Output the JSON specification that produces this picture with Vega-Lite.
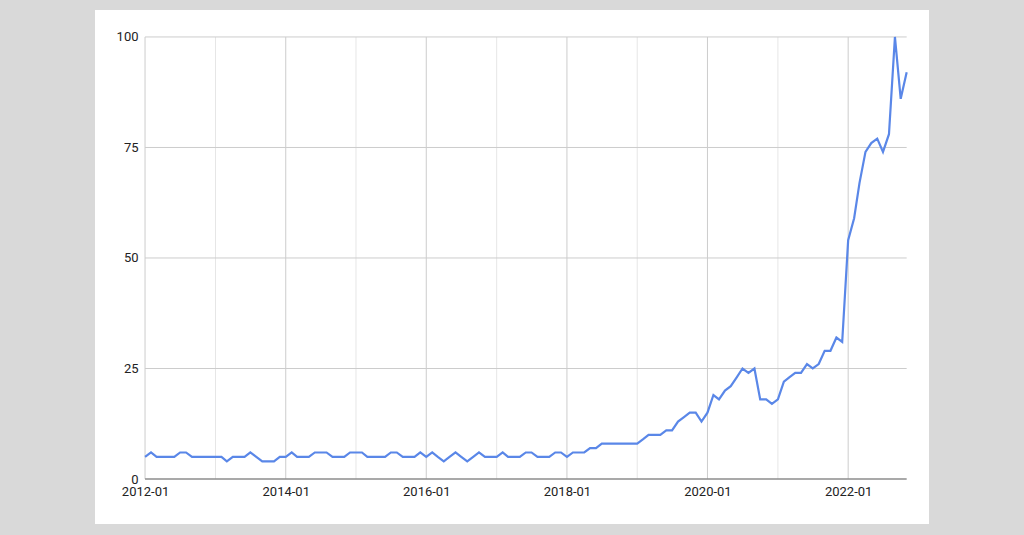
{
  "$schema": "https://vega.github.io/schema/vega-lite/v6.json",
  "width": 834,
  "height": 514,
  "autosize": {"type": "none"},
  "padding": {"left": 95, "top": 10, "right": 95, "bottom": 11},
  "background": "#d9d9d9",
  "config": {"view": {"fill": "#ffffff", "stroke": null}, "font": "Roboto"},
  "datasets": {
    "trend": [
      {"date": "2012-01-01", "v": 5}, {"date": "2012-02-01", "v": 6}, {"date": "2012-03-01", "v": 5}, {"date": "2012-04-01", "v": 5},
      {"date": "2012-05-01", "v": 5}, {"date": "2012-06-01", "v": 5}, {"date": "2012-07-01", "v": 6}, {"date": "2012-08-01", "v": 6},
      {"date": "2012-09-01", "v": 5}, {"date": "2012-10-01", "v": 5}, {"date": "2012-11-01", "v": 5}, {"date": "2012-12-01", "v": 5},
      {"date": "2013-01-01", "v": 5}, {"date": "2013-02-01", "v": 5}, {"date": "2013-03-01", "v": 4}, {"date": "2013-04-01", "v": 5},
      {"date": "2013-05-01", "v": 5}, {"date": "2013-06-01", "v": 5}, {"date": "2013-07-01", "v": 6}, {"date": "2013-08-01", "v": 5},
      {"date": "2013-09-01", "v": 4}, {"date": "2013-10-01", "v": 4}, {"date": "2013-11-01", "v": 4}, {"date": "2013-12-01", "v": 5},
      {"date": "2014-01-01", "v": 5}, {"date": "2014-02-01", "v": 6}, {"date": "2014-03-01", "v": 5}, {"date": "2014-04-01", "v": 5},
      {"date": "2014-05-01", "v": 5}, {"date": "2014-06-01", "v": 6}, {"date": "2014-07-01", "v": 6}, {"date": "2014-08-01", "v": 6},
      {"date": "2014-09-01", "v": 5}, {"date": "2014-10-01", "v": 5}, {"date": "2014-11-01", "v": 5}, {"date": "2014-12-01", "v": 6},
      {"date": "2015-01-01", "v": 6}, {"date": "2015-02-01", "v": 6}, {"date": "2015-03-01", "v": 5}, {"date": "2015-04-01", "v": 5},
      {"date": "2015-05-01", "v": 5}, {"date": "2015-06-01", "v": 5}, {"date": "2015-07-01", "v": 6}, {"date": "2015-08-01", "v": 6},
      {"date": "2015-09-01", "v": 5}, {"date": "2015-10-01", "v": 5}, {"date": "2015-11-01", "v": 5}, {"date": "2015-12-01", "v": 6},
      {"date": "2016-01-01", "v": 5}, {"date": "2016-02-01", "v": 6}, {"date": "2016-03-01", "v": 5}, {"date": "2016-04-01", "v": 4},
      {"date": "2016-05-01", "v": 5}, {"date": "2016-06-01", "v": 6}, {"date": "2016-07-01", "v": 5}, {"date": "2016-08-01", "v": 4},
      {"date": "2016-09-01", "v": 5}, {"date": "2016-10-01", "v": 6}, {"date": "2016-11-01", "v": 5}, {"date": "2016-12-01", "v": 5},
      {"date": "2017-01-01", "v": 5}, {"date": "2017-02-01", "v": 6}, {"date": "2017-03-01", "v": 5}, {"date": "2017-04-01", "v": 5},
      {"date": "2017-05-01", "v": 5}, {"date": "2017-06-01", "v": 6}, {"date": "2017-07-01", "v": 6}, {"date": "2017-08-01", "v": 5},
      {"date": "2017-09-01", "v": 5}, {"date": "2017-10-01", "v": 5}, {"date": "2017-11-01", "v": 6}, {"date": "2017-12-01", "v": 6},
      {"date": "2018-01-01", "v": 5}, {"date": "2018-02-01", "v": 6}, {"date": "2018-03-01", "v": 6}, {"date": "2018-04-01", "v": 6},
      {"date": "2018-05-01", "v": 7}, {"date": "2018-06-01", "v": 7}, {"date": "2018-07-01", "v": 8}, {"date": "2018-08-01", "v": 8},
      {"date": "2018-09-01", "v": 8}, {"date": "2018-10-01", "v": 8}, {"date": "2018-11-01", "v": 8}, {"date": "2018-12-01", "v": 8},
      {"date": "2019-01-01", "v": 8}, {"date": "2019-02-01", "v": 9}, {"date": "2019-03-01", "v": 10}, {"date": "2019-04-01", "v": 10},
      {"date": "2019-05-01", "v": 10}, {"date": "2019-06-01", "v": 11}, {"date": "2019-07-01", "v": 11}, {"date": "2019-08-01", "v": 13},
      {"date": "2019-09-01", "v": 14}, {"date": "2019-10-01", "v": 15}, {"date": "2019-11-01", "v": 15}, {"date": "2019-12-01", "v": 13},
      {"date": "2020-01-01", "v": 15}, {"date": "2020-02-01", "v": 19}, {"date": "2020-03-01", "v": 18}, {"date": "2020-04-01", "v": 20},
      {"date": "2020-05-01", "v": 21}, {"date": "2020-06-01", "v": 23}, {"date": "2020-07-01", "v": 25}, {"date": "2020-08-01", "v": 24},
      {"date": "2020-09-01", "v": 25}, {"date": "2020-10-01", "v": 18}, {"date": "2020-11-01", "v": 18}, {"date": "2020-12-01", "v": 17},
      {"date": "2021-01-01", "v": 18}, {"date": "2021-02-01", "v": 22}, {"date": "2021-03-01", "v": 23}, {"date": "2021-04-01", "v": 24},
      {"date": "2021-05-01", "v": 24}, {"date": "2021-06-01", "v": 26}, {"date": "2021-07-01", "v": 25}, {"date": "2021-08-01", "v": 26},
      {"date": "2021-09-01", "v": 29}, {"date": "2021-10-01", "v": 29}, {"date": "2021-11-01", "v": 32}, {"date": "2021-12-01", "v": 31},
      {"date": "2022-01-01", "v": 54}, {"date": "2022-02-01", "v": 59}, {"date": "2022-03-01", "v": 67}, {"date": "2022-04-01", "v": 74},
      {"date": "2022-05-01", "v": 76}, {"date": "2022-06-01", "v": 77}, {"date": "2022-07-01", "v": 74}, {"date": "2022-08-01", "v": 78},
      {"date": "2022-09-01", "v": 100}, {"date": "2022-10-01", "v": 86}, {"date": "2022-11-01", "v": 92}
    ],
    "majorYears": [
      {"g": "2012-01-01"}, {"g": "2014-01-01"}, {"g": "2016-01-01"}, {"g": "2018-01-01"}, {"g": "2020-01-01"}, {"g": "2022-01-01"}
    ],
    "minorYears": [
      {"g": "2013-01-01"}, {"g": "2015-01-01"}, {"g": "2017-01-01"}, {"g": "2019-01-01"}, {"g": "2021-01-01"}
    ],
    "hLines": [{"h": 25}, {"h": 50}, {"h": 75}, {"h": 100}]
  },
  "layer": [
    {
      "data": {"name": "minorYears"},
      "mark": {"type": "rule", "color": "#e6e6e6", "strokeWidth": 1},
      "encoding": {
        "x": {"field": "g", "type": "temporal", "title": null,
              "scale": {"type": "utc", "domain": [{"year": 2011, "month": 4, "date": 16, "utc": true}, {"year": 2023, "month": 2, "date": 25, "utc": true}]},
              "axis": {"orient": "bottom", "offset": -45, "domain": false, "ticks": false, "grid": false,
                       "format": "%Y-%m", "labelFontSize": 13, "labelColor": "#222222", "labelPadding": 6,
                       "values": [{"year": 2012, "month": 1, "date": 1, "utc": true}, {"year": 2014, "month": 1, "date": 1, "utc": true},
                                  {"year": 2016, "month": 1, "date": 1, "utc": true}, {"year": 2018, "month": 1, "date": 1, "utc": true},
                                  {"year": 2020, "month": 1, "date": 1, "utc": true}, {"year": 2022, "month": 1, "date": 1, "utc": true}]}},
        "y": {"datum": 0, "type": "quantitative", "title": null,
              "scale": {"domain": [-10.18, 106.1], "nice": false, "zero": false},
              "axis": {"orient": "left", "offset": -50, "domain": false, "ticks": false, "grid": false,
                       "values": [0, 25, 50, 75, 100], "labelFontSize": 13, "labelColor": "#222222", "labelPadding": 7}},
        "y2": {"datum": 100}
      }
    },
    {
      "data": {"name": "majorYears"},
      "mark": {"type": "rule", "color": "#cccccc", "strokeWidth": 1},
      "encoding": {
        "x": {"field": "g", "type": "temporal", "title": null,
              "scale": {"type": "utc", "domain": [{"year": 2011, "month": 4, "date": 16, "utc": true}, {"year": 2023, "month": 2, "date": 25, "utc": true}]},
              "axis": {"orient": "bottom", "offset": -45, "domain": false, "ticks": false, "grid": false,
                       "format": "%Y-%m", "labelFontSize": 13, "labelColor": "#222222", "labelPadding": 6,
                       "values": [{"year": 2012, "month": 1, "date": 1, "utc": true}, {"year": 2014, "month": 1, "date": 1, "utc": true},
                                  {"year": 2016, "month": 1, "date": 1, "utc": true}, {"year": 2018, "month": 1, "date": 1, "utc": true},
                                  {"year": 2020, "month": 1, "date": 1, "utc": true}, {"year": 2022, "month": 1, "date": 1, "utc": true}]}},
        "y": {"datum": 0, "type": "quantitative", "title": null,
              "scale": {"domain": [-10.18, 106.1], "nice": false, "zero": false},
              "axis": {"orient": "left", "offset": -50, "domain": false, "ticks": false, "grid": false,
                       "values": [0, 25, 50, 75, 100], "labelFontSize": 13, "labelColor": "#222222", "labelPadding": 7}},
        "y2": {"datum": 100}
      }
    },
    {
      "data": {"name": "hLines"},
      "mark": {"type": "rule", "color": "#cccccc", "strokeWidth": 1},
      "encoding": {
        "x": {"datum": {"year": 2012, "month": 1, "date": 1, "utc": true}, "type": "temporal", "title": null,
              "scale": {"type": "utc", "domain": [{"year": 2011, "month": 4, "date": 16, "utc": true}, {"year": 2023, "month": 2, "date": 25, "utc": true}]},
              "axis": {"orient": "bottom", "offset": -45, "domain": false, "ticks": false, "grid": false,
                       "format": "%Y-%m", "labelFontSize": 13, "labelColor": "#222222", "labelPadding": 6,
                       "values": [{"year": 2012, "month": 1, "date": 1, "utc": true}, {"year": 2014, "month": 1, "date": 1, "utc": true},
                                  {"year": 2016, "month": 1, "date": 1, "utc": true}, {"year": 2018, "month": 1, "date": 1, "utc": true},
                                  {"year": 2020, "month": 1, "date": 1, "utc": true}, {"year": 2022, "month": 1, "date": 1, "utc": true}]}},
        "x2": {"datum": {"year": 2022, "month": 11, "date": 1, "utc": true}},
        "y": {"field": "h", "type": "quantitative", "title": null,
              "scale": {"domain": [-10.18, 106.1], "nice": false, "zero": false},
              "axis": {"orient": "left", "offset": -50, "domain": false, "ticks": false, "grid": false,
                       "values": [0, 25, 50, 75, 100], "labelFontSize": 13, "labelColor": "#222222", "labelPadding": 7}}
      }
    },
    {
      "data": {"name": "hLines"},
      "transform": [{"filter": "datum.h === 25"}],
      "mark": {"type": "rule", "color": "#8c8c8c", "strokeWidth": 1.5},
      "encoding": {
        "x": {"datum": {"year": 2012, "month": 1, "date": 1, "utc": true}, "type": "temporal", "title": null,
              "scale": {"type": "utc", "domain": [{"year": 2011, "month": 4, "date": 16, "utc": true}, {"year": 2023, "month": 2, "date": 25, "utc": true}]},
              "axis": {"orient": "bottom", "offset": -45, "domain": false, "ticks": false, "grid": false,
                       "format": "%Y-%m", "labelFontSize": 13, "labelColor": "#222222", "labelPadding": 6,
                       "values": [{"year": 2012, "month": 1, "date": 1, "utc": true}, {"year": 2014, "month": 1, "date": 1, "utc": true},
                                  {"year": 2016, "month": 1, "date": 1, "utc": true}, {"year": 2018, "month": 1, "date": 1, "utc": true},
                                  {"year": 2020, "month": 1, "date": 1, "utc": true}, {"year": 2022, "month": 1, "date": 1, "utc": true}]}},
        "x2": {"datum": {"year": 2022, "month": 11, "date": 1, "utc": true}},
        "y": {"datum": 0, "type": "quantitative", "title": null,
              "scale": {"domain": [-10.18, 106.1], "nice": false, "zero": false},
              "axis": {"orient": "left", "offset": -50, "domain": false, "ticks": false, "grid": false,
                       "values": [0, 25, 50, 75, 100], "labelFontSize": 13, "labelColor": "#222222", "labelPadding": 7}}
      }
    },
    {
      "data": {"name": "trend"},
      "mark": {"type": "line", "color": "#5a87e8", "strokeWidth": 2.2},
      "encoding": {
        "x": {"field": "date", "type": "temporal", "title": null,
              "scale": {"type": "utc", "domain": [{"year": 2011, "month": 4, "date": 16, "utc": true}, {"year": 2023, "month": 2, "date": 25, "utc": true}]},
              "axis": {"orient": "bottom", "offset": -45, "domain": false, "ticks": false, "grid": false,
                       "format": "%Y-%m", "labelFontSize": 13, "labelColor": "#222222", "labelPadding": 6,
                       "values": [{"year": 2012, "month": 1, "date": 1, "utc": true}, {"year": 2014, "month": 1, "date": 1, "utc": true},
                                  {"year": 2016, "month": 1, "date": 1, "utc": true}, {"year": 2018, "month": 1, "date": 1, "utc": true},
                                  {"year": 2020, "month": 1, "date": 1, "utc": true}, {"year": 2022, "month": 1, "date": 1, "utc": true}]}},
        "y": {"field": "v", "type": "quantitative", "title": null,
              "scale": {"domain": [-10.18, 106.1], "nice": false, "zero": false},
              "axis": {"orient": "left", "offset": -50, "domain": false, "ticks": false, "grid": false,
                       "values": [0, 25, 50, 75, 100], "labelFontSize": 13, "labelColor": "#222222", "labelPadding": 7}}
      }
    }
  ]
}
